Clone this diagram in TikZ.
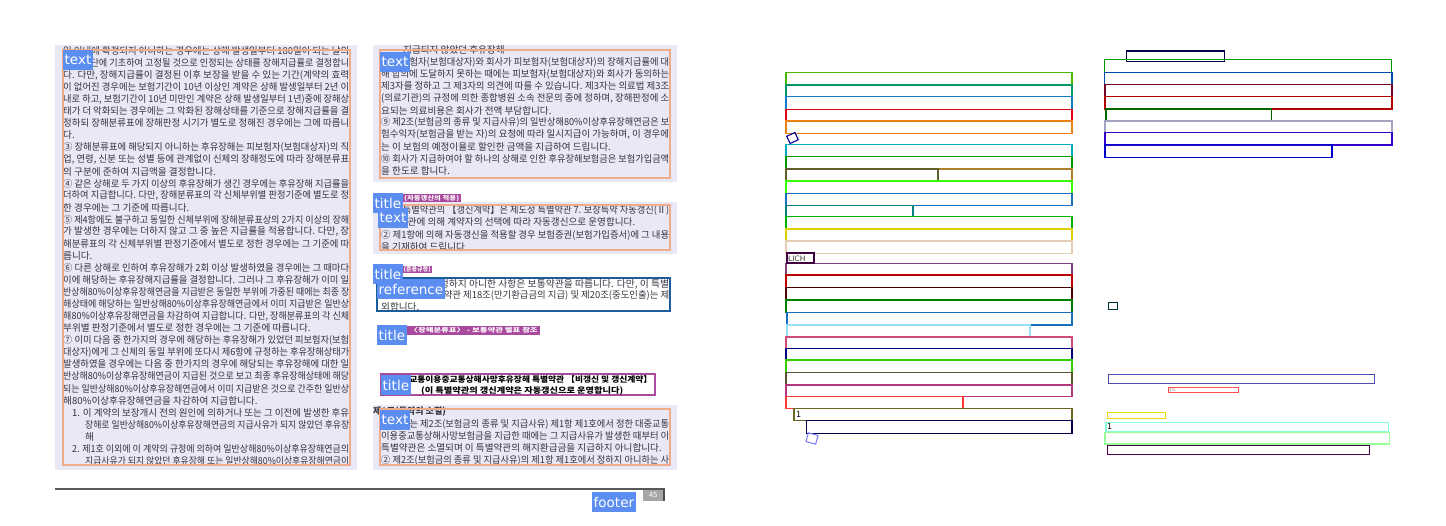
\documentclass[tikz,border=0pt]{standalone}
\usepackage{fontspec}
\usepackage{graphicx}
\setmainfont{DejaVu Sans}
\newfontfamily\kr{Noto Sans CJK KR}
\definecolor{pagebg}{HTML}{E8E8F6}
\definecolor{boxorange}{HTML}{F0AC88}
\definecolor{boxtitle}{HTML}{A94A9E}
\definecolor{boxref}{HTML}{1B5C9A}
\definecolor{tagblue}{HTML}{5C8EF2}
\definecolor{inkgray}{HTML}{34343F}
\newcommand\fitline[2]{\ifdim#1pt>0pt\resizebox{#1pt}{\height}{#2}\else#2\fi}

\begin{document}
\begin{tikzpicture}[x=1pt,y=-1pt]
\tikzset{tag/.style={fill=tagblue, text=white, anchor=north west, inner xsep=1.5pt, inner ysep=0pt, minimum height=20pt, font=\fontsize{13.5}{14}\selectfont}}
\tikzset{kline/.style={anchor=west, inner sep=0pt, text=inkgray, font=\kr\fontsize{9.6}{11}\selectfont}}
\tikzset{region/.style={fill=pagebg}}
\tikzset{textbox/.style={draw=boxorange, line width=2.6pt}}
\tikzset{titlebox/.style={fill=boxtitle, text=white, inner sep=0pt, anchor=north west, font=\kr\bfseries\fontsize{6}{6}\selectfont}}
\tikzset{refbox/.style={draw=boxref, line width=2.6pt}}
\tikzset{seg/.style={line width=1.1pt}}
\useasboundingbox (0,0) rectangle (1446,525);

\fill[region] (55,45) rectangle (357,470);
\fill[region] (373,45) rectangle (677,182);
\fill[region] (373,202) rectangle (677,254);
\fill[region] (373,405) rectangle (677,470);

\begin{scope}
\clip (55,45) rectangle (357,466);
\foreach \i/\x/\w/\t in {
 1/63/286/{일 이내에 확정되지 아니하는 경우에는 상해 발생일부터 180일이 되는 날의},
 2/63/286/{의사 진단에 기초하여 고정될 것으로 인정되는 상태를 장해지급률로 결정합니},
 3/63/286/{다. 다만, 장해지급률이 결정된 이후 보장을 받을 수 있는 기간(계약의 효력},
 4/63/286/{이 없어진 경우에는 보험기간이 10년 이상인 계약은 상해 발생일부터 2년 이},
 5/63/286/{내로 하고, 보험기간이 10년 미만인 계약은 상해 발생일부터 1년)중에 장해상},
 6/63/286/{태가 더 악화되는 경우에는 그 악화된 장해상태를 기준으로 장해지급률을 결},
 7/63/286/{정하되 장해분류표에 장해판정 시기가 별도로 정해진 경우에는 그에 따릅니},
 8/63/0/{다.},
 9/63/286/{③ 장해분류표에 해당되지 아니하는 후유장해는 피보험자(보험대상자)의 직},
 10/63/286/{업, 연령, 신분 또는 성별 등에 관계없이 신체의 장해정도에 따라 장해분류표},
 11/63/0/{의 구분에 준하여 지급액을 결정합니다.},
 12/63/286/{④ 같은 상해로 두 가지 이상의 후유장해가 생긴 경우에는 후유장해 지급률을},
 13/63/286/{더하여 지급합니다. 다만, 장해분류표의 각 신체부위별 판정기준에 별도로 정},
 14/63/0/{한 경우에는 그 기준에 따릅니다.},
 15/63/286/{⑤ 제4항에도 불구하고 동일한 신체부위에 장해분류표상의 2가지 이상의 장해},
 16/63/286/{가 발생한 경우에는 더하지 않고 그 중 높은 지급률을 적용합니다. 다만, 장},
 17/63/286/{해분류표의 각 신체부위별 판정기준에서 별도로 정한 경우에는 그 기준에 따},
 18/63/0/{릅니다.},
 19/63/286/{⑥ 다른 상해로 인하여 후유장해가 2회 이상 발생하였을 경우에는 그 때마다},
 20/63/286/{이에 해당하는 후유장해지급률을 결정합니다. 그러나 그 후유장해가 이미 일},
 21/63/286/{반상해80\%이상후유장해연금을 지급받은 동일한 부위에 가중된 때에는 최종 장},
 22/63/286/{해상태에 해당하는 일반상해80\%이상후유장해연금에서 이미 지급받은 일반상},
 23/63/286/{해80\%이상후유장해연금을 차감하여 지급합니다. 다만, 장해분류표의 각 신체},
 24/63/0/{부위별 판정기준에서 별도로 정한 경우에는 그 기준에 따릅니다.},
 25/63/286/{⑦ 이미 다음 중 한가지의 경우에 해당하는 후유장해가 있었던 피보험자(보험},
 26/63/286/{대상자)에게 그 신체의 동일 부위에 또다시 제6항에 규정하는 후유장해상태가},
 27/63/286/{발생하였을 경우에는 다음 중 한가지의 경우에 해당되는 후유장해에 대한 일},
 28/63/286/{반상해80\%이상후유장해연금이 지급된 것으로 보고 최종 후유장해상태에 해당},
 29/63/286/{되는 일반상해80\%이상후유장해연금에서 이미 지급받은 것으로 간주한 일반상},
 30/63/0/{해80\%이상후유장해연금을 차감하여 지급합니다.},
 31/72/277/{1. 이 계약의 보장개시 전의 원인에 의하거나 또는 그 이전에 발생한 후유},
 32/85/264/{장해로 일반상해80\%이상후유장해연금의 지급사유가 되지 않았던 후유장},
 33/85/0/{해},
 34/72/277/{2. 제1호 이외에 이 계약의 규정에 의하여 일반상해80\%이상후유장해연금의},
 35/85/264/{지급사유가 되지 않았던 후유장해 또는 일반상해80\%이상후유장해연금이}}
  \node[kline] (left\i) at (\x,{51+(\i-1)*12.05}) {\fitline{\w}{\t}};
\end{scope}

\begin{scope}
\clip (373,45) rectangle (677,177);
\foreach \i/\x/\w/\t in {
 1/403/0/{지급되지 않았던 후유장해},
 2/381/288/{⑧ 피보험자(보험대상자)와 회사가 피보험자(보험대상자)의 장해지급률에 대},
 3/381/288/{해 합의에 도달하지 못하는 때에는 피보험자(보험대상자)와 회사가 동의하는},
 4/381/288/{제3자를 정하고 그 제3자의 의견에 따를 수 있습니다. 제3자는 의료법 제3조},
 5/381/288/{(의료기관)의 규정에 의한 종합병원 소속 전문의 중에 정하며, 장해판정에 소},
 6/381/0/{요되는 의료비용은 회사가 전액 부담합니다.},
 7/381/288/{⑨ 제2조(보험금의 종류 및 지급사유)의 일반상해80\%이상후유장해연금은 보},
 8/381/288/{험수익자(보험금을 받는 자)의 요청에 따라 일시지급이 가능하며, 이 경우에},
 9/381/0/{는 이 보험의 예정이율로 할인한 금액을 지급하여 드립니다.},
 10/381/288/{⑩ 회사가 지급하여야 할 하나의 상해로 인한 후유장해보험금은 보험가입금액},
 11/381/0/{을 한도로 합니다.}}
  \node[kline] (right\i) at (\x,{50+(\i-1)*12.1}) {\fitline{\w}{\t}};
\end{scope}

\begin{scope}
\clip (373,202) rectangle (677,251);
\foreach \y/\x/\w/\t in {
 210/381/288/{① 이 특별약관의 【갱신계약】은 제도성 특별약관 7. 보장특약 자동갱신(Ⅱ)},
 222/381/0/{특별약관에 의해 계약자의 선택에 따라 자동갱신으로 운영합니다.},
 235/381/288/{② 제1항에 의해 자동갱신을 적용할 경우 보험증권(보험가입증서)에 그 내용},
 247/381/0/{을 기재하여 드립니다.}}
  \node[kline] at (\x,\y) {\fitline{\w}{\t}};
\end{scope}

\begin{scope}
\clip (377,278) rectangle (670,310);
\foreach \y/\x/\w/\t in {
 284/381/288/{이 특별약관에 정하지 아니한 사항은 보통약관을 따릅니다. 다만, 이 특별},
 295.5/381/288/{약관에서는 보통약관 제18조(만기환급금의 지급) 및 제20조(중도인출)는 제},
 306.5/381/0/{외합니다.}}
  \node[kline] at (\x,\y) {\fitline{\w}{\t}};
\end{scope}

\node[kline, font=\kr\bfseries\fontsize{9}{11}\selectfont] (art) at (373,412) {\fitline{0}{제1조(특약의 소멸)}};
\begin{scope}
\clip (373,405) rectangle (677,466);
\foreach \y/\x/\w/\t in {
 424/381/288/{① 회사는 제2조(보험금의 종류 및 지급사유) 제1항 제1호에서 정한 대중교통},
 436/381/288/{이용중교통상해사망보험금을 지급한 때에는 그 지급사유가 발생한 때부터 이},
 448/381/0/{특별약관은 소멸되며 이 특별약관의 해지환급금을 지급하지 아니합니다.},
 460/381/288/{② 제2조(보험금의 종류 및 지급사유)의 제1항 제1호에서 정하지 아니하는 사}}
  \node[kline] at (\x,\y) {\fitline{\w}{\t}};
\end{scope}

\draw[textbox] (63,50) rectangle (350,465);
\draw[textbox] (380,50) rectangle (670,178);
\draw[textbox] (380,205) rectangle (670,250);
\draw[textbox] (380,409) rectangle (670,465);
\draw[refbox] (377,278) rectangle (670,311);
\draw[boxtitle, line width=2.6pt] (381,374) rectangle (655,395);

\node[titlebox, minimum width=59pt, minimum height=8pt] (title1) at (402,194) {\fitline{55}{(자동갱신의 적용)}};
\node[titlebox, minimum width=30pt, minimum height=7pt] (title2) at (402,266) {\fitline{27}{(준용규정)}};
\node[titlebox, minimum width=133pt, minimum height=9pt] (title3) at (407,326) {\fitline{128}{〈장해분류표〉 - 보통약관 별표 참조}};
\node[kline, text=black, font=\kr\bfseries\fontsize{8}{9}\selectfont] (title4a) at (393,379.5) {\fitline{259}{대중교통이용중교통상해사망후유장해 특별약관 【비갱신 및 갱신계약】}};
\node[kline, text=black, font=\kr\bfseries\fontsize{8}{9}\selectfont] (title4b) at (421,390.5) {\fitline{202}{(이 특별약관의 갱신계약은 자동갱신으로 운영합니다)}};

\draw[black!65, line width=2pt] (55,489) -- (665,489);
\node[fill=gray!70, text=white, anchor=north west, minimum width=20pt, minimum height=11pt, inner sep=0pt, font=\fontsize{7}{7}\selectfont] (pagenum) at (643,489.5) {45};
\fill[black!70] (663,489.5) rectangle (665,501);

\foreach \x/\y/\t [count=\n] in {63/50/text, 380/52/text, 373/193/title, 378/208/text, 373/264/title, 377/279/reference, 377/325/title, 381/375/title, 380/410/text, 592/492/footer}
  \node[tag] (tag\n) at (\x,\y) {\t};

\foreach \xa/\ya/\xb/\yb/\c in {
 786/72.3/1072/85/{green!45!olive}, 786/85/1072/96.7/{teal!80!green},
 786/96.7/1072/109.3/{cyan!60!blue}, 786/109.3/1072/121/{red!60!purple},
 786/121/1072/133.3/{orange!70!brown},
 786/144.3/1072/156.7/{cyan!70!green}, 786/156.7/1072/169/{green!60!black},
 786/169/1072/181/{brown!70!olive}, 786/169/938/181/{olive!60!black},
 786/181/1072/193.3/{green!70!lime}, 786/193.3/1072/205.3/{cyan!50!blue},
 786/205.3/913/216.7/{teal}, 786/216.7/1072/229/{green!70!black},
 786/229/1072/241/{yellow!70!olive}, 786/241/1072/253.3/{brown!40!white},
 786/263.3/1072/275/{violet!50!gray}, 786/275/1072/287.3/{red!75!black},
 786/287.3/1072/300/{black!70!red}, 786/300/1072/312.7/{green!50!black},
 787/312.7/1072/325/{cyan!50!blue}, 787/325/1030/337/{cyan!40!white},
 786/337/1072/348.3/{purple!70!white}, 786/348.3/1072/360/{blue!50!black},
 786/360/1072/372.3/{green!60!olive}, 786/372.3/1072/385/{olive!50!black},
 786/385/1072/396.7/{magenta!70!black}, 786/396.7/963/408.3/{red!70!pink},
 794/408.3/1072/420.7/{olive!70!black}, 806.7/420.7/1072/433.3/{blue!30!black},
 1126.7/51/1224.3/61.7/{blue!30!black}, 1104.3/59.3/1391.7/72.3/{green!60!black},
 1104.3/72.3/1392/84.3/{teal!60!blue}, 1105/84.3/1392/96.7/{purple!60!black},
 1105/96.7/1392/109/{red!70!black}, 1106/109/1271.7/120.3/{green!40!black},
 1105/121/1392/132.3/{blue!20!gray!60!white}, 1105/132.3/1392/145/{blue!60!violet},
 1105/144.3/1332/157.3/{blue!80!black},
 1108.3/302.3/1117.7/309.3/{black!60!teal}, 1108.3/374.3/1374.3/383.3/{blue!40!gray},
 1168.3/387.3/1238.3/392.3/{red!60!pink}, 1107.3/412.3/1165.7/418.3/{yellow!80!olive},
 1106/422.3/1388.3/431.3/{green!30!cyan!50!white}, 1105/432.7/1389.7/444/{green!40!white},
 1107.3/445.3/1369.7/454.3/{violet!60!black}}
  \draw[seg, draw=\c] (\xa,\ya) rectangle (\xb,\yb);

\draw[seg, draw=violet!50!black] (787,253) rectangle (814,263);
\node[anchor=west, inner sep=0pt, text=black!80, font=\fontsize{7.5}{8}\selectfont] (lich) at (788,258.5) {LICH};
\node[anchor=west, inner sep=0pt, text=black, font=\fontsize{8}{8}\selectfont] (one1) at (796,414.5) {1};
\node[anchor=west, inner sep=0pt, text=black, font=\fontsize{8}{8}\selectfont] (one2) at (1107,426.5) {1};
\node[anchor=west, inner sep=0pt, text=gray, font=\fontsize{4}{4}\selectfont] (pct) at (1169,389.8) {5\%};
\draw[seg, draw=blue!60!black, rotate around={25:(792.5,138)}] (788,134) rectangle (797,142);
\draw[seg, draw=blue!50!white, rotate around={-15:(812,438.5)}] (807,434) rectangle (817,443);
\end{tikzpicture}
\end{document}
